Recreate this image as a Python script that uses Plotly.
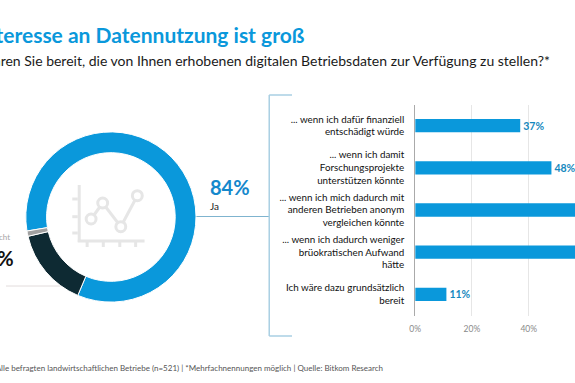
import plotly.graph_objects as go

W, H = 575, 383
def px(x): return x / W
def py(y): return 1 - y / H

# Data
donut_labels = ["Ja", "Nein", "Weiß nicht"]
donut_values = [84, 15, 1]
donut_colors = ["#0A98DB", "#0E2A33", "#A0A0A0"]
bar_categories = [
    "... wenn ich dafür finanziell<br>entschädigt würde",
    "... wenn ich damit<br>Forschungsprojekte<br>unterstützen könnte",
    "... wenn ich mich dadurch mit<br>anderen Betrieben anonym<br>vergleichen könnte",
    "... wenn ich dadurch weniger<br>brüokratischen Aufwand<br>hätte",
    "Ich wäre dazu grundsätzlich<br>bereit",
]
bar_values = [37, 48, 64, 60, 11]
x_ticks = [0, 20, 40]
x_tick_labels = ["0%", "20%", "40%"]

FONT = "Lato"
BLUE = "#0A98DB"
ICON = "#E6E6E6"

fig = go.Figure()
fig.add_trace(go.Pie(
    labels=donut_labels, values=donut_values, hole=0.756, sort=False,
    direction="clockwise", rotation=260.5, textinfo="none", showlegend=False,
    marker=dict(colors=donut_colors, line=dict(color="white", width=1)),
    domain=dict(x=[px(20), px(192)], y=[py(303), py(131)]),
))
fig.add_trace(go.Bar(
    x=bar_values, y=bar_categories, orientation="h", marker_color=BLUE,
    marker_line_width=0, width=0.315, cliponaxis=False,
    text=[f"{v}%" for v in bar_values], textposition="outside",
    textfont=dict(family=FONT, size=10.5, color="#1488BE", weight="bold"),
    xaxis="x", yaxis="y", showlegend=False,
))

shapes = []
def line(x0, y0, x1, y1, color, w=1):
    shapes.append(dict(type="line", xref="paper", yref="paper", layer="below",
                       x0=px(x0), y0=py(y0), x1=px(x1), y1=py(y1),
                       line=dict(color=color, width=w)))
# connector and bracket
BR = "#A9CFE3"
line(192, 216.5, 266, 216.5, "#7FB4CF")
line(266, 95, 266, 336, BR, 1.5)
line(266, 95, 289, 95, BR, 1.5)
line(266, 336, 289, 336, BR, 1.5)
line(0, 286, 55, 286, "#E2DCDC")
# centre icon
line(74, 185, 74, 242, ICON, 3)
line(72.5, 241, 140, 241, ICON, 3)
for y in (199, 216.7, 233):
    line(67, y, 72.5, y, ICON, 3)
for x in (82, 98.3, 115, 131):
    line(x, 242, x, 247, ICON, 3)
pts = [(86, 219), (97.7, 203), (116, 226.7), (132.7, 195.7)]
for a, b in zip(pts, pts[1:]):
    line(a[0], a[1], b[0], b[1], ICON, 3)
for x, y in pts:
    r = 5
    shapes.append(dict(type="circle", xref="paper", yref="paper",
                       x0=px(x - r), x1=px(x + r), y0=py(y + r), y1=py(y - r),
                       fillcolor="white", line=dict(color=ICON, width=3)))

def note(text, x, y, size, color, anchor="left", bold=False):
    return dict(text=text, xref="paper", yref="paper", x=px(x), y=py(y),
                xanchor=anchor, yanchor="middle", showarrow=False,
                font=dict(family=FONT, size=size, color=color,
                          weight="bold" if bold else "normal"))

annotations = [
    note("Das Interesse an Datennutzung ist groß", 304, 34, 21, BLUE, "right", True),
    note("Wären Sie bereit, die von Ihnen erhobenen digitalen Betriebsdaten zur Verfügung zu stellen?*",
         552, 60, 14, "#1A1A1A", "right"),
    note("84%", 204, 187, 20, "#1488CC", "left", True),
    note("Ja", 204, 206, 10, "#222222"),
    note("Weiß nicht", 6.5, 237, 8, "#A5A5A5", "right"),
    note("15%", 10, 257.5, 20, "#111111", "right", True),
    note("Basis: Alle befragten landwirtschaftlichen Betriebe (n=521) | *Mehrfachnennungen möglich | Quelle: Bitkom Research",
         383, 368, 8, "#555555", "right"),
]

fig.update_layout(
    width=W, height=H, margin=dict(l=0, r=0, t=0, b=0),
    paper_bgcolor="white", plot_bgcolor="white",
    font=dict(family=FONT), shapes=shapes, annotations=annotations,
    xaxis=dict(domain=[px(413.5), 1], range=[0, 56.3], tickvals=x_ticks,
               ticktext=x_tick_labels, showgrid=True, gridcolor="#E6E6E6",
               gridwidth=1, zeroline=False, ticks="outside", ticklen=5,
               tickcolor="rgba(0,0,0,0)",
               tickfont=dict(family=FONT, size=8.5, color="#8A8A8A")),
    yaxis=dict(domain=[py(315.5), py(104.5)], autorange="reversed",
               showline=True, linecolor="#AAAAAA", linewidth=1, showgrid=False,
               ticks="outside", ticklen=8, tickcolor="rgba(0,0,0,0)",
               tickfont=dict(family=FONT, size=9.8, color="#111111")),
    bargap=0.685,
)
fig.write_html("out.html", config=dict(displayModeBar=False),
               post_script="document.body.style.margin='0';document.documentElement.style.overflow='hidden';window.dispatchEvent(new Event('resize'));")
